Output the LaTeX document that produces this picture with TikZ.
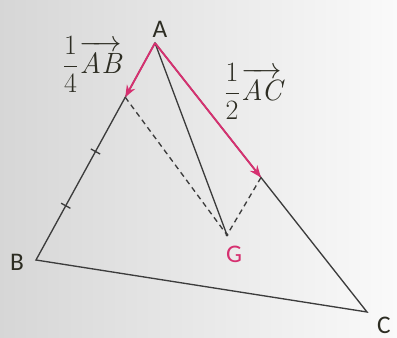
\documentclass[tikz,border=0pt]{standalone}
\usepackage{fix-cm}
\usepackage{fontspec}
\setsansfont{Carlito}
\usetikzlibrary{arrows.meta,calc}
\definecolor{vecpink}{RGB}{214,48,112}
\definecolor{edge}{RGB}{60,60,60}
\definecolor{labtxt}{RGB}{45,45,35}
\tikzset{
  side/.style={draw=edge, line width=1pt},
  vecarrow/.style={draw=vecpink, line width=1.4pt, -{Stealth[length=9pt,width=7pt]}},
  dashline/.style={draw=edge, line width=1pt, dash pattern=on 4pt off 3pt},
  ptlabel/.style={font=\sffamily\fontsize{19}{22}\selectfont, text=labtxt, inner sep=0pt},
  veclabel/.style={font=\fontsize{21}{24}\selectfont, text=labtxt, inner sep=0pt},
  tickmark/.style={draw=edge, line width=1pt}
}
\newcommand{\vecl}[2]{$\displaystyle\frac{\mbox{1}}{\mbox{#1}}$\hspace{1pt}{\fontsize{22}{24}\selectfont$\overrightarrow{\mbox{\rule{0pt}{17pt}\itshape #2}}$}}
\begin{document}
\begin{tikzpicture}[x=0.75pt,y=-0.75pt]
  \shade[left color=gray!32, right color=gray!4] (0,0) rectangle (397,338);
  \useasboundingbox (0,0) rectangle (397,338);
  \coordinate (A) at (155,43);
  \coordinate (B) at (36,260);
  \coordinate (C) at (367,312);
  \coordinate (G) at (227,235);
  \coordinate (Q) at ($(A)!0.25!(B)$);
  \coordinate (M) at ($(A)!0.5!(C)$);
  \coordinate (T1) at ($(A)!0.5!(B)$);
  \coordinate (T2) at ($(A)!0.75!(B)$);
  % triangle
  \draw[side] (A) -- (B) -- (C) -- cycle;
  \draw[side] (A) -- (G);
  % dashed
  \draw[dashline] (Q) -- (G);
  \draw[dashline] (M) -- (G);
  % ticks
  \draw[tickmark] ($(T1)!4pt!90:(B)$) -- ($(T1)!4pt!-90:(B)$);
  \draw[tickmark] ($(T2)!4pt!90:(B)$) -- ($(T2)!4pt!-90:(B)$);
  % vectors
  \draw[vecarrow] (A) -- (Q);
  \draw[vecarrow] (A) -- (M);
  \fill[edge] (G) circle (1.3pt);
  % labels
  \node[ptlabel] (lA) at (160,29) {A};
  \node[ptlabel] (lB) at (17,262) {B};
  \node[ptlabel] (lC) at (384,325) {C};
  \node[ptlabel, text=vecpink] (lG) at (234,254) {G};
  \node[veclabel] (lAB) at (92,64) {\vecl{4}{AB}};
  \node[veclabel] (lAC) at (253,91) {\vecl{2}{AC}};
\end{tikzpicture}
\end{document}
